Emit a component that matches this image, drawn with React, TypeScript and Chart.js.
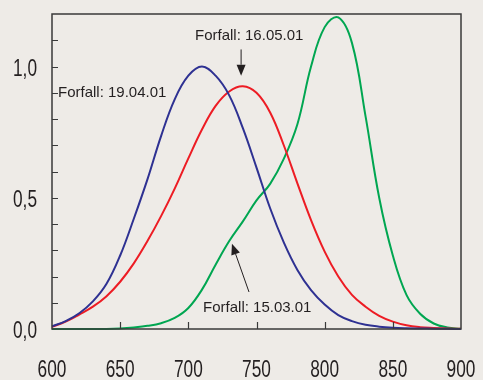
import { useEffect, useRef } from 'react';
import { Chart, registerables } from 'chart.js';

Chart.register(...registerables);

// Wavelength (nm) grid shared by the three series
const wavelengths = [600, 610, 620, 630, 640, 650, 660, 670, 680, 690, 700, 710, 720, 730, 740, 750, 760, 770, 780, 790, 800, 810, 820, 830, 840, 850, 860, 870, 880, 890, 900];

// Forfall: 19.04.01 (blue)
const blueSeries = [0.01, 0.03, 0.06, 0.105, 0.172, 0.28, 0.42, 0.57, 0.735, 0.875, 0.965, 1.0, 0.965, 0.89, 0.765, 0.615, 0.46, 0.33, 0.225, 0.148, 0.093, 0.053, 0.03, 0.016, 0.009, 0.005, 0.003, 0.002, 0.001, 0.0005, 0];

// Forfall: 16.05.01 (red)
const redSeries = [0.008, 0.028, 0.055, 0.085, 0.125, 0.18, 0.25, 0.335, 0.43, 0.535, 0.65, 0.76, 0.85, 0.905, 0.925, 0.9, 0.825, 0.7, 0.555, 0.415, 0.295, 0.2, 0.13, 0.085, 0.05, 0.028, 0.014, 0.007, 0.004, 0.002, 0.001];

// Forfall: 15.03.01 (green)
const greenSeries = [0, 0, 0, 0, 0, 0.002, 0.006, 0.012, 0.022, 0.042, 0.08, 0.15, 0.245, 0.335, 0.41, 0.49, 0.553, 0.648, 0.78, 1.0, 1.15, 1.187, 1.09, 0.81, 0.5, 0.28, 0.13, 0.058, 0.021, 0.006, 0.001];

const seriesLabels = ['Forfall: 19.04.01', 'Forfall: 16.05.01', 'Forfall: 15.03.01'];
const seriesColors = ['#2e3192', '#ed1c24', '#00a651'];

const yTickValues = [0, 0.5, 1.0];
const yTickLabels = ['0,0', '0,5', '1,0'];

const BG = '#eeebe7';
const INK = '#231f20';
const TICK_FONT = '24px "Liberation Sans", Arial, sans-serif';
const TICK_SQUEEZE = 0.72;

// Annotation anchors in data coordinates
const labelAnchors = [
  { text: seriesLabels[0], x: 604.4, y: 0.9 },
  { text: seriesLabels[1], x: 704.9, y: 1.118 },
  { text: seriesLabels[2], x: 710.8, y: 0.08 },
];
const arrowAnchors = [
  { x1: 738.7, y1: 1.065, x2: 738.7, y2: 0.965 },
  { x1: 744.5, y1: 0.141, x2: 732.0, y2: 0.325 },
];

const framePlugin = {
  id: 'frameAndNotes',
  afterDatasetsDraw(chart: any) {
    const { ctx, chartArea } = chart;
    const xs = chart.scales.x;
    const ys = chart.scales.y;
    ctx.save();
    ctx.strokeStyle = '#3a3a3a';
    ctx.lineWidth = 1.5;
    ctx.strokeRect(chartArea.left, chartArea.top, chartArea.right - chartArea.left, chartArea.bottom - chartArea.top);
    ctx.lineWidth = 1.2;
    ctx.beginPath();
    xs.ticks.forEach((t: any) => {
      if (t.value <= xs.min || t.value >= xs.max) return;
      const px = Math.round(xs.getPixelForValue(t.value)) + 0.5;
      ctx.moveTo(px, chartArea.bottom);
      ctx.lineTo(px, chartArea.bottom - 7);
    });
    ys.ticks.forEach((t: any) => {
      if (t.value <= ys.min || t.value >= ys.max - 1e-9) return;
      const py = Math.round(ys.getPixelForValue(t.value)) + 0.5;
      ctx.moveTo(chartArea.left, py);
      ctx.lineTo(chartArea.left + 6, py);
    });
    ctx.stroke();

    // tick labels (condensed face)
    ctx.fillStyle = INK;
    ctx.font = TICK_FONT;
    ctx.textBaseline = 'alphabetic';
    ctx.textAlign = 'center';
    xs.ticks.forEach((t: any) => {
      if (!t.label) return;
      const px = xs.getPixelForValue(t.value);
      ctx.save();
      ctx.translate(px, chartArea.bottom + 48);
      ctx.scale(TICK_SQUEEZE, 1);
      ctx.fillText(String(t.label), 0, 0);
      ctx.restore();
    });
    ctx.textAlign = 'right';
    ys.ticks.forEach((t: any) => {
      if (!t.label) return;
      const py = ys.getPixelForValue(t.value);
      ctx.save();
      ctx.translate(chartArea.left - 15, py + 9);
      ctx.scale(TICK_SQUEEZE, 1);
      ctx.fillText(String(t.label), 0, 0);
      ctx.restore();
    });

    // annotations
    ctx.font = '15px "Liberation Sans", Arial, sans-serif';
    ctx.textAlign = 'left';
    ctx.textBaseline = 'middle';
    labelAnchors.forEach((a) => {
      ctx.fillText(a.text, xs.getPixelForValue(a.x), ys.getPixelForValue(a.y));
    });

    // arrows
    ctx.strokeStyle = INK;
    ctx.lineWidth = 1;
    arrowAnchors.forEach((a) => {
      const x1 = xs.getPixelForValue(a.x1);
      const y1 = ys.getPixelForValue(a.y1);
      const x2 = xs.getPixelForValue(a.x2);
      const y2 = ys.getPixelForValue(a.y2);
      const ang = Math.atan2(y2 - y1, x2 - x1);
      const headLen = 11;
      const headW = 4.5;
      const bx = x2 - headLen * Math.cos(ang);
      const by = y2 - headLen * Math.sin(ang);
      ctx.beginPath();
      ctx.moveTo(x1, y1);
      ctx.lineTo(bx, by);
      ctx.stroke();
      ctx.beginPath();
      ctx.moveTo(x2, y2);
      ctx.lineTo(bx + headW * Math.sin(ang), by - headW * Math.cos(ang));
      ctx.lineTo(bx - headW * Math.sin(ang), by + headW * Math.cos(ang));
      ctx.closePath();
      ctx.fill();
    });
    ctx.restore();
  },
};

export default function App() {
  const canvasRef = useRef<HTMLCanvasElement | null>(null);

  useEffect(() => {
    document.body.style.margin = '0';
    document.body.style.background = BG;
    const canvas = canvasRef.current;
    if (!canvas) return;
    const series = [blueSeries, redSeries, greenSeries];
    const chart = new Chart(canvas, {
      type: 'line',
      data: {
        datasets: series.map((s, i) => ({
          label: seriesLabels[i],
          data: wavelengths.map((w, j) => ({ x: w, y: s[j] })),
          borderColor: seriesColors[i],
          backgroundColor: seriesColors[i],
          borderWidth: 2,
          pointRadius: 0,
          tension: 0.4,
          fill: false,
          clip: 3,
        })),
      },
      options: {
        animation: false,
        responsive: false,
        maintainAspectRatio: false,
        layout: { padding: { top: 14, right: 22, left: 0, bottom: 0 } },
        plugins: {
          legend: { display: false },
          tooltip: { enabled: false },
        },
        scales: {
          x: {
            type: 'linear',
            min: 600,
            max: 900,
            grid: { display: false, drawTicks: false },
            border: { display: false },
            ticks: { display: false, stepSize: 50, autoSkip: false, maxRotation: 0 },
            afterFit: (s: any) => {
              s.height = 51;
              s.paddingLeft = 0;
              s.paddingRight = 0;
            },
          },
          y: {
            type: 'linear',
            min: 0,
            max: 1.2,
            grid: { display: false, drawTicks: false },
            border: { display: false },
            ticks: {
              display: false,
              stepSize: 0.1,
              autoSkip: false,
              callback: (v: any) => {
                const idx = yTickValues.findIndex((t) => Math.abs(t - Number(v)) < 1e-6);
                return idx >= 0 ? yTickLabels[idx] : '';
              },
            },
            afterFit: (s: any) => {
              s.width = 52;
              s.paddingTop = 0;
              s.paddingBottom = 0;
            },
          },
        },
      },
      plugins: [framePlugin],
    });
    return () => chart.destroy();
  }, []);

  return (
    <div style={{ width: 483, height: 380, background: BG }}>
      <canvas ref={canvasRef} width={483} height={380} />
    </div>
  );
}
